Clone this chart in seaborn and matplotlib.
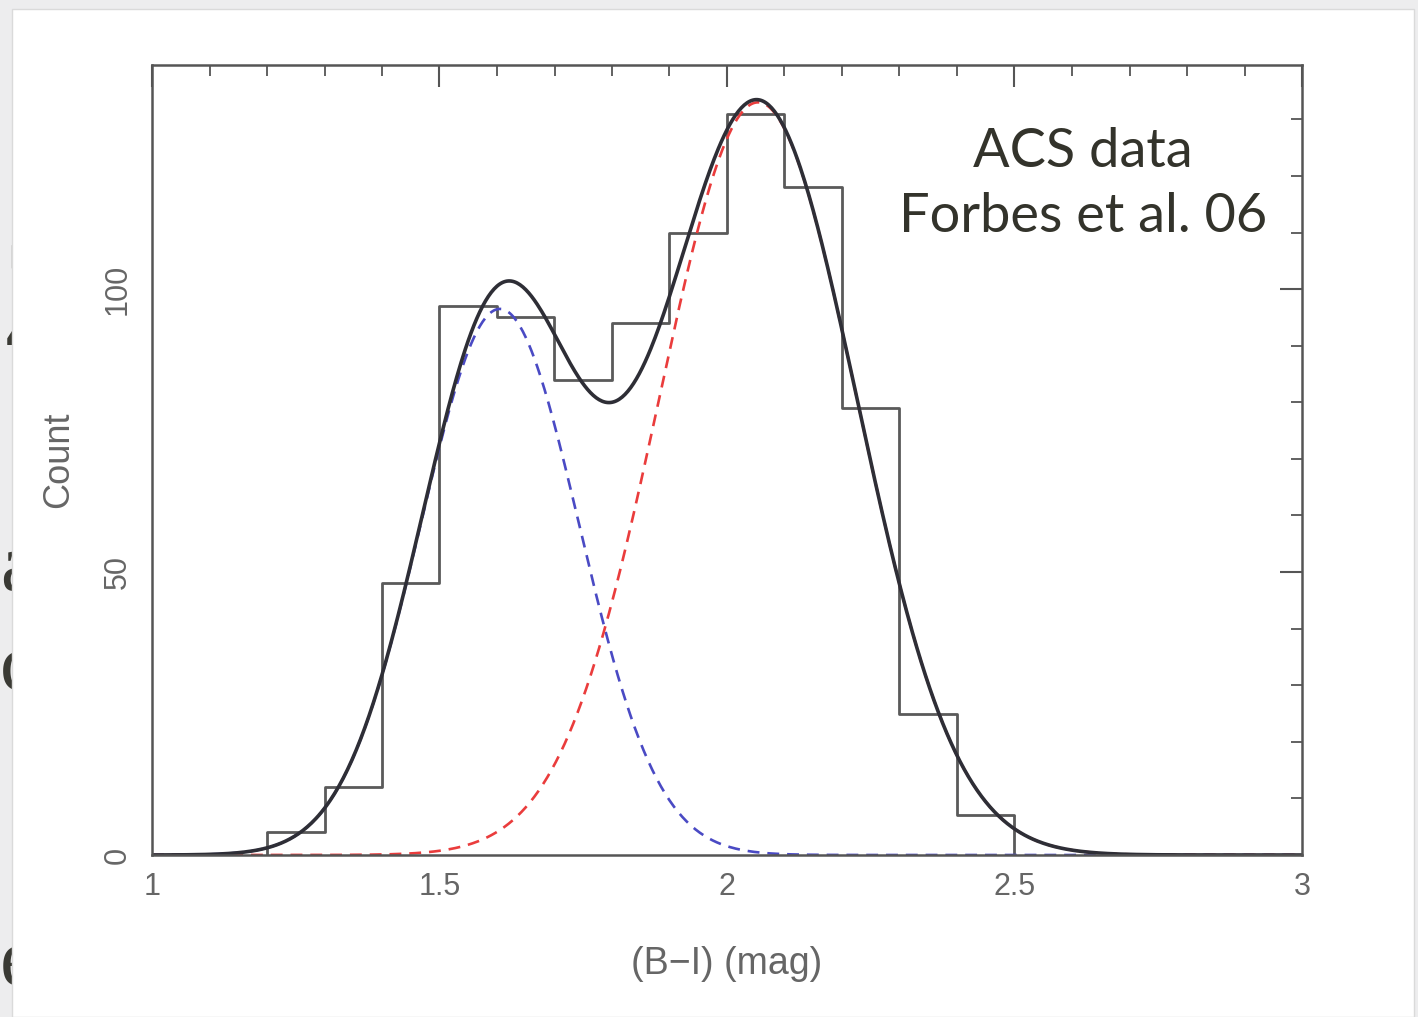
import numpy as np
import pandas as pd
import matplotlib
matplotlib.use("Agg")
import matplotlib.pyplot as plt
from matplotlib.patches import Rectangle
import seaborn as sns

# ---- data ----
bin_edges = [1.2, 1.3, 1.4, 1.5, 1.6, 1.7, 1.8, 1.9, 2.0, 2.1, 2.2, 2.3, 2.4, 2.5]
counts = [4, 12, 48, 97, 95, 84, 94, 110, 131, 118, 79, 25, 7]

# Gaussian fit parameters (blue = first component, red = second component)
blue_mu, blue_sigma, blue_amp = 1.605, 0.1375, 96.5
red_mu, red_sigma, red_amp = 2.054, 0.172, 133.0

x_label = "(B\u2212I) (mag)"
y_label = "Count"
annotation = "ACS data\nForbes et al. 06"

# ---- figure ----
sns.set_theme(style="white")
plt.rcParams["font.family"] = ["Liberation Sans", "DejaVu Sans"]

W, H = 1418, 1017
fig = plt.figure(figsize=(W / 100, H / 100), dpi=100)
fig.patch.set_facecolor("#ededee")

# text fragments of the slide behind the white panel
frag_kw = dict(color="#3a3a34", fontsize=60, family=["Liberation Serif", "DejaVu Serif"], zorder=0)
fig.text(0.0, 1 - 590 / H, "a", **frag_kw)
fig.text(0.0, 1 - 690 / H, "c", **frag_kw)
fig.text(0.0, 1 - 985 / H, "e", **frag_kw)
fig.text(0.0, 1 - 345 / H, "Z", color="#3a3a34", fontsize=110,
         family=["Liberation Serif", "DejaVu Serif"], zorder=0)

# white slide panel
fig.patches.append(Rectangle((12 / W, 0), (1414 - 12) / W, 1 - 9 / H,
                             transform=fig.transFigure, facecolor="white",
                             edgecolor="#dadada", linewidth=1.0, zorder=1))

ax = fig.add_axes([152 / W, 1 - 855 / H, (1302 - 152) / W, (855 - 65) / H])
ax.set_zorder(2)
ax.patch.set_alpha(0)

centers = [(a + b) / 2 for a, b in zip(bin_edges[:-1], bin_edges[1:])]
hist_df = pd.DataFrame({"color": centers, "count": counts})
hist_col = "#5a5a5a"
sns.histplot(data=hist_df, x="color", weights="count", bins=bin_edges,
             element="step", fill=False, color=hist_col, linewidth=2.0, ax=ax)
# closing vertical edges at both ends of the histogram
ax.vlines([bin_edges[0], bin_edges[-1]], 0, [counts[0], counts[-1]],
          color=hist_col, linewidth=2.0)

xs = np.linspace(1.0, 3.0, 801)
blue = blue_amp * np.exp(-0.5 * ((xs - blue_mu) / blue_sigma) ** 2)
red = red_amp * np.exp(-0.5 * ((xs - red_mu) / red_sigma) ** 2)
curves = pd.DataFrame({"x": xs, "blue": blue, "red": red, "total": blue + red})

sns.lineplot(data=curves, x="x", y="blue", ax=ax, color="#4a4ac4",
             linewidth=1.9, linestyle=(0, (4.5, 3)))
sns.lineplot(data=curves, x="x", y="red", ax=ax, color="#ea3c3c",
             linewidth=1.9, linestyle=(0, (4.5, 3)))
sns.lineplot(data=curves, x="x", y="total", ax=ax, color="#2e2e36",
             linewidth=2.6)

ax.set_xlim(1.0, 3.0)
ax.set_ylim(0, 139.6)

ax.set_xticks([1, 1.5, 2, 2.5, 3])
ax.set_xticklabels(["1", "1.5", "2", "2.5", "3"])
ax.set_xticks(np.arange(1.0, 3.001, 0.1), minor=True)
ax.set_yticks([0, 50, 100])
ax.set_yticklabels(["0", "50", "100"])
ax.set_yticks(np.arange(0, 140, 10), minor=True)

tick_col = "#555555"
ax.tick_params(axis="both", which="major", direction="in", length=16, width=1.5,
               color=tick_col, top=True, right=True, labelsize=22,
               labelcolor="#666666")
ax.tick_params(axis="both", which="minor", direction="in", length=8, width=1.3,
               color=tick_col, top=True, right=True)
ax.tick_params(axis="x", which="major", pad=12)
ax.tick_params(axis="y", which="major", pad=14)
for lab in ax.get_yticklabels():
    lab.set_rotation(90)
    lab.set_va("center")

for s in ax.spines.values():
    s.set_visible(True)
    s.set_color("#555555")
    s.set_linewidth(1.8)

ax.set_xlabel(x_label, fontsize=27, color="#666666")
ax.set_ylabel(y_label, fontsize=26, color="#666666")
ax.xaxis.set_label_coords(0.5, (855 - 946) / 790)
ax.yaxis.set_label_coords((76 - 152) / 1150, 0.5)

ax.text(1083 / W, 1 - 184 / H, annotation, transform=fig.transFigure,
        ha="center", va="center", fontsize=39, color="#33332b",
        family=["Lato", "DejaVu Sans"], linespacing=1.38, zorder=5)

fig.savefig("out.png", dpi=100, facecolor=fig.get_facecolor())
